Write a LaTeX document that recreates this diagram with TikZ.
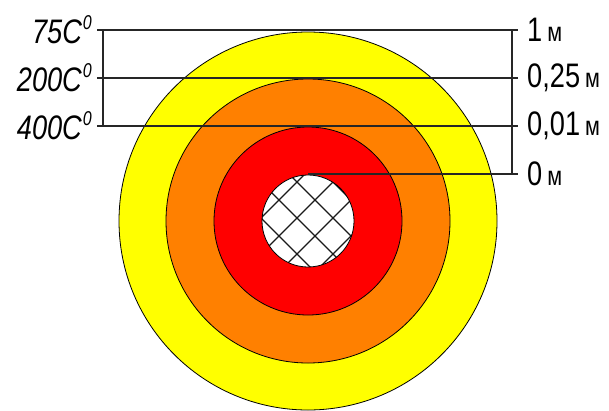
\documentclass[tikz,border=0pt]{standalone}
\usepackage{fontspec}
\setmainfont{Liberation Sans}[FakeStretch=0.8]
\begin{document}
\begin{tikzpicture}[x=1pt,y=-1pt,
  ring/.style={draw=black,line width=0.8pt},
  level/.style={draw=black!85,line width=1.3pt},
  hatchline/.style={draw=black!90,line width=1.3pt},
  lbl/.style={inner sep=0pt,font=\fontsize{34}{36}\selectfont},
  leftlbl/.style={lbl,anchor=east,font=\fontsize{34}{36}\selectfont\itshape},
  rightlbl/.style={lbl,anchor=west}]
\useasboundingbox (0,0) rectangle (609,410);
\coordinate (c) at (308,221);
% rings
\fill[white] (0,0) rectangle (609,410);
\path[ring,fill={rgb,255:red,255;green,255;blue,0}] (c) circle[radius=189pt];
\path[ring,fill={rgb,255:red,255;green,128;blue,0}] (c) circle[radius=142pt];
\path[ring,fill={rgb,255:red,255;green,0;blue,0}] (c) circle[radius=94pt];
\path[fill=white] (c) circle[radius=46pt];
\begin{scope}
  \clip (c) circle[radius=46pt];
  \foreach \k in {-2,...,3} {
    \draw[hatchline] (150,{150-115-36*\k}) -- (450,{450-115-36*\k});
    \draw[hatchline] (150,{515+36*\k-150}) -- (450,{515+36*\k-450});
  }
\end{scope}
\path[ring,draw=black] (c) circle[radius=46pt];
% level lines
\coordinate (l1) at (97,30);  \coordinate (r1) at (518,30);
\coordinate (l2) at (97,78);  \coordinate (r2) at (518,78);
\coordinate (l3) at (97,126); \coordinate (r3) at (518,126);
\coordinate (l4) at (308,174); \coordinate (r4) at (518,174);
\coordinate (vlt) at (103,30); \coordinate (vlb) at (103,126);
\coordinate (vrt) at (512,30); \coordinate (vrb) at (512,174);
\draw[level] (l1) -- (r1);
\draw[level] (l2) -- (r2);
\draw[level] (l3) -- (r3);
\draw[level] (l4) -- (r4);
\draw[level] (vlt) -- (vlb);
\draw[level] (vrt) -- (vrb);
% labels
\newcommand{\degz}{\raisebox{0.42em}{\fontsize{20}{20}\selectfont\hspace{1pt}0}}
\newcommand{\mtr}{\hspace{5pt}{\fontsize{27}{27}\selectfont\upshape м}}
\node[leftlbl] (t1) at (92,30) {75C\degz};
\node[leftlbl] (t2) at (92,78) {200C\degz};
\node[leftlbl] (t3) at (92,126) {400C\degz};
\node[rightlbl] (d1) at (527,30) {1\mtr};
\node[rightlbl] (d2) at (527,78) {0,25\mtr};
\node[rightlbl] (d3) at (527,126) {0,01\mtr};
\node[rightlbl] (d4) at (527,174) {0\mtr};
\end{tikzpicture}
\end{document}
